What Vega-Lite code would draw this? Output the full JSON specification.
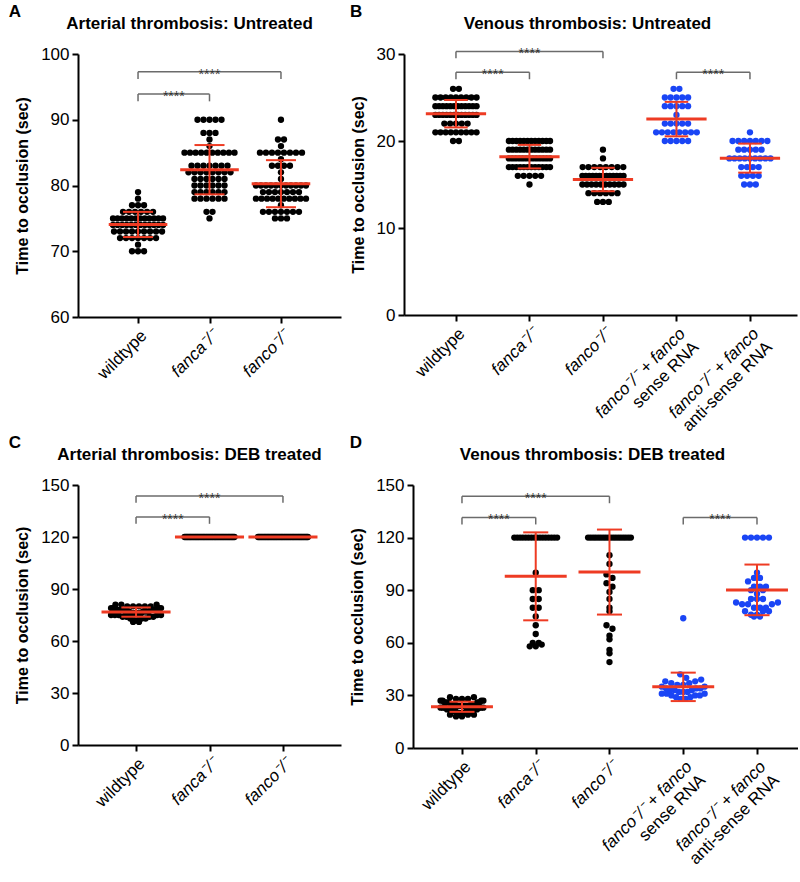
{
"$schema": "https://vega.github.io/schema/vega-lite/v6.json",
"background": "white",
"padding": {"left": 8, "top": 3, "right": 0, "bottom": 0},
"config": {
 "view": {"stroke": null},
 "font": "Liberation Sans",
 "axis": {"domainColor": "black", "domainWidth": 2, "tickColor": "black", "tickWidth": 2, "tickSize": 6, "labelColor": "black", "labelFontSize": 17, "labelFont": "Liberation Sans", "titleFont": "Liberation Sans", "titleFontSize": 16, "titleFontWeight": "bold", "titleColor": "black", "grid": false, "labelLineHeight": 19},
 "title": {"font": "Liberation Sans", "fontWeight": "bold", "color": "black"}
},
"datasets": {
"A": [
{"g":1,"v":79},{"g":1,"v":78},{"g":1,"v":77},{"g":1,"v":77},{"g":1,"v":77},
{"g":1,"v":76},{"g":1,"v":76},{"g":1,"v":76},{"g":1,"v":76},{"g":1,"v":76},{"g":1,"v":76},
{"g":1,"v":75},{"g":1,"v":75},{"g":1,"v":75},{"g":1,"v":75},{"g":1,"v":75},{"g":1,"v":75},{"g":1,"v":75},{"g":1,"v":75},{"g":1,"v":75},{"g":1,"v":75},{"g":1,"v":75},{"g":1,"v":75},
{"g":1,"v":74},{"g":1,"v":74},{"g":1,"v":74},{"g":1,"v":74},{"g":1,"v":74},{"g":1,"v":74},{"g":1,"v":74},{"g":1,"v":74},{"g":1,"v":74},{"g":1,"v":74},{"g":1,"v":74},{"g":1,"v":74},
{"g":1,"v":73},{"g":1,"v":73},{"g":1,"v":73},{"g":1,"v":73},{"g":1,"v":73},{"g":1,"v":73},{"g":1,"v":73},{"g":1,"v":73},{"g":1,"v":73},
{"g":1,"v":72},{"g":1,"v":72},{"g":1,"v":72},{"g":1,"v":72},{"g":1,"v":72},{"g":1,"v":72},{"g":1,"v":72},
{"g":1,"v":71},{"g":1,"v":70},{"g":1,"v":70},{"g":1,"v":70},
{"g":2,"v":90},{"g":2,"v":90},{"g":2,"v":90},{"g":2,"v":90},{"g":2,"v":90},
{"g":2,"v":88},{"g":2,"v":88},{"g":2,"v":88},{"g":2,"v":87},{"g":2,"v":86},
{"g":2,"v":85},{"g":2,"v":85},{"g":2,"v":85},{"g":2,"v":85},{"g":2,"v":85},{"g":2,"v":85},{"g":2,"v":85},{"g":2,"v":85},{"g":2,"v":85},{"g":2,"v":85},
{"g":2,"v":83},{"g":2,"v":83},{"g":2,"v":83},{"g":2,"v":83},{"g":2,"v":83},{"g":2,"v":83},{"g":2,"v":83},
{"g":2,"v":82},{"g":2,"v":82},{"g":2,"v":82},{"g":2,"v":82},{"g":2,"v":82},{"g":2,"v":82},{"g":2,"v":82},{"g":2,"v":82},
{"g":2,"v":81},{"g":2,"v":81},{"g":2,"v":81},{"g":2,"v":81},{"g":2,"v":81},{"g":2,"v":81},
{"g":2,"v":80},{"g":2,"v":80},{"g":2,"v":80},{"g":2,"v":80},{"g":2,"v":80},{"g":2,"v":80},
{"g":2,"v":79},{"g":2,"v":79},{"g":2,"v":79},{"g":2,"v":79},{"g":2,"v":79},{"g":2,"v":79},
{"g":2,"v":78},{"g":2,"v":78},{"g":2,"v":78},{"g":2,"v":78},{"g":2,"v":78},{"g":2,"v":78},
{"g":2,"v":76},{"g":2,"v":76},{"g":2,"v":75},
{"g":3,"v":90},{"g":3,"v":87},{"g":3,"v":87},{"g":3,"v":86},
{"g":3,"v":85},{"g":3,"v":85},{"g":3,"v":85},{"g":3,"v":85},{"g":3,"v":85},{"g":3,"v":85},{"g":3,"v":85},{"g":3,"v":85},
{"g":3,"v":84},{"g":3,"v":83},{"g":3,"v":83},{"g":3,"v":83},{"g":3,"v":83},{"g":3,"v":82},{"g":3,"v":81},
{"g":3,"v":80},{"g":3,"v":80},{"g":3,"v":80},{"g":3,"v":80},{"g":3,"v":80},{"g":3,"v":80},{"g":3,"v":80},{"g":3,"v":80},{"g":3,"v":80},{"g":3,"v":80},{"g":3,"v":80},
{"g":3,"v":79},{"g":3,"v":79},{"g":3,"v":79},{"g":3,"v":79},{"g":3,"v":79},{"g":3,"v":79},{"g":3,"v":79},
{"g":3,"v":78},{"g":3,"v":78},{"g":3,"v":78},{"g":3,"v":78},{"g":3,"v":78},{"g":3,"v":78},{"g":3,"v":78},{"g":3,"v":78},{"g":3,"v":78},{"g":3,"v":78},
{"g":3,"v":77},
{"g":3,"v":76},{"g":3,"v":76},{"g":3,"v":76},{"g":3,"v":76},{"g":3,"v":76},{"g":3,"v":76},{"g":3,"v":76},
{"g":3,"v":75},{"g":3,"v":75},{"g":3,"v":75}
],
"B": [
{"g":1,"v":26},{"g":1,"v":26},
{"g":1,"v":25},{"g":1,"v":25},{"g":1,"v":25},{"g":1,"v":25},{"g":1,"v":25},{"g":1,"v":25},{"g":1,"v":25},{"g":1,"v":25},{"g":1,"v":25},
{"g":1,"v":24},{"g":1,"v":24},{"g":1,"v":24},{"g":1,"v":24},{"g":1,"v":24},{"g":1,"v":24},{"g":1,"v":24},{"g":1,"v":24},{"g":1,"v":24},{"g":1,"v":24},{"g":1,"v":24},{"g":1,"v":24},
{"g":1,"v":23},{"g":1,"v":23},{"g":1,"v":23},{"g":1,"v":23},{"g":1,"v":23},{"g":1,"v":23},{"g":1,"v":23},{"g":1,"v":23},{"g":1,"v":23},{"g":1,"v":23},{"g":1,"v":23},{"g":1,"v":23},
{"g":1,"v":22},{"g":1,"v":22},{"g":1,"v":22},{"g":1,"v":22},{"g":1,"v":22},
{"g":1,"v":21},{"g":1,"v":21},{"g":1,"v":21},{"g":1,"v":21},{"g":1,"v":21},{"g":1,"v":21},{"g":1,"v":21},{"g":1,"v":21},{"g":1,"v":21},
{"g":1,"v":20},{"g":1,"v":20},
{"g":2,"v":20},{"g":2,"v":20},{"g":2,"v":20},{"g":2,"v":20},{"g":2,"v":20},{"g":2,"v":20},{"g":2,"v":20},{"g":2,"v":20},{"g":2,"v":20},{"g":2,"v":20},{"g":2,"v":20},{"g":2,"v":20},
{"g":2,"v":19},{"g":2,"v":19},{"g":2,"v":19},{"g":2,"v":19},{"g":2,"v":19},{"g":2,"v":19},{"g":2,"v":19},{"g":2,"v":19},{"g":2,"v":19},{"g":2,"v":19},{"g":2,"v":19},{"g":2,"v":19},
{"g":2,"v":18},{"g":2,"v":18},{"g":2,"v":18},{"g":2,"v":18},{"g":2,"v":18},{"g":2,"v":18},{"g":2,"v":18},{"g":2,"v":18},{"g":2,"v":18},{"g":2,"v":18},{"g":2,"v":18},{"g":2,"v":18},{"g":2,"v":18},
{"g":2,"v":17},{"g":2,"v":17},{"g":2,"v":17},{"g":2,"v":17},{"g":2,"v":17},{"g":2,"v":17},{"g":2,"v":17},{"g":2,"v":17},{"g":2,"v":17},{"g":2,"v":17},{"g":2,"v":17},{"g":2,"v":17},
{"g":2,"v":16},{"g":2,"v":16},{"g":2,"v":16},{"g":2,"v":16},{"g":2,"v":16},
{"g":2,"v":15},
{"g":3,"v":19},{"g":3,"v":18},
{"g":3,"v":17},{"g":3,"v":17},{"g":3,"v":17},{"g":3,"v":17},{"g":3,"v":17},{"g":3,"v":17},{"g":3,"v":17},{"g":3,"v":17},
{"g":3,"v":16},{"g":3,"v":16},{"g":3,"v":16},{"g":3,"v":16},{"g":3,"v":16},{"g":3,"v":16},{"g":3,"v":16},{"g":3,"v":16},{"g":3,"v":16},{"g":3,"v":16},{"g":3,"v":16},{"g":3,"v":16},{"g":3,"v":16},
{"g":3,"v":15},{"g":3,"v":15},{"g":3,"v":15},{"g":3,"v":15},{"g":3,"v":15},{"g":3,"v":15},{"g":3,"v":15},{"g":3,"v":15},{"g":3,"v":15},{"g":3,"v":15},
{"g":3,"v":14},{"g":3,"v":14},{"g":3,"v":14},{"g":3,"v":14},{"g":3,"v":14},{"g":3,"v":14},
{"g":3,"v":13},{"g":3,"v":13},{"g":3,"v":13},
{"g":4,"v":26},{"g":4,"v":26},
{"g":4,"v":25},{"g":4,"v":25},{"g":4,"v":25},{"g":4,"v":25},{"g":4,"v":25},
{"g":4,"v":24},{"g":4,"v":24},{"g":4,"v":24},{"g":4,"v":24},{"g":4,"v":24},
{"g":4,"v":23},
{"g":4,"v":22},{"g":4,"v":22},{"g":4,"v":22},{"g":4,"v":22},{"g":4,"v":22},
{"g":4,"v":21},{"g":4,"v":21},{"g":4,"v":21},{"g":4,"v":21},{"g":4,"v":21},{"g":4,"v":21},{"g":4,"v":21},{"g":4,"v":21},
{"g":4,"v":20},{"g":4,"v":20},{"g":4,"v":20},{"g":4,"v":20},{"g":4,"v":20},
{"g":5,"v":21},
{"g":5,"v":20},{"g":5,"v":20},{"g":5,"v":20},{"g":5,"v":20},{"g":5,"v":20},{"g":5,"v":20},{"g":5,"v":20},
{"g":5,"v":19},{"g":5,"v":19},{"g":5,"v":19},{"g":5,"v":19},{"g":5,"v":19},
{"g":5,"v":18},{"g":5,"v":18},{"g":5,"v":18},{"g":5,"v":18},{"g":5,"v":18},{"g":5,"v":18},{"g":5,"v":18},{"g":5,"v":18},{"g":5,"v":18},
{"g":5,"v":17},{"g":5,"v":17},{"g":5,"v":17},{"g":5,"v":17},
{"g":5,"v":16},{"g":5,"v":16},{"g":5,"v":16},{"g":5,"v":16},
{"g":5,"v":15},{"g":5,"v":15},{"g":5,"v":15}
],
"C": [
{"g":1,"v":71},{"g":1,"v":71},{"g":1,"v":72},{"g":1,"v":72},
{"g":1,"v":73},{"g":1,"v":73},{"g":1,"v":73},
{"g":1,"v":74},{"g":1,"v":74},{"g":1,"v":74},{"g":1,"v":74},
{"g":1,"v":75},{"g":1,"v":75},{"g":1,"v":75},{"g":1,"v":75},{"g":1,"v":75},
{"g":1,"v":76},{"g":1,"v":76},{"g":1,"v":76},{"g":1,"v":76},{"g":1,"v":76},{"g":1,"v":76},
{"g":1,"v":77},{"g":1,"v":77},{"g":1,"v":77},{"g":1,"v":77},{"g":1,"v":77},{"g":1,"v":77},{"g":1,"v":77},
{"g":1,"v":78},{"g":1,"v":78},{"g":1,"v":78},{"g":1,"v":78},{"g":1,"v":78},{"g":1,"v":78},{"g":1,"v":78},
{"g":1,"v":79},{"g":1,"v":79},{"g":1,"v":79},{"g":1,"v":79},{"g":1,"v":79},{"g":1,"v":79},
{"g":1,"v":80},{"g":1,"v":80},{"g":1,"v":80},{"g":1,"v":80},{"g":1,"v":80},
{"g":1,"v":81},{"g":1,"v":81},{"g":1,"v":81},
{"g":2,"v":120},{"g":2,"v":120},{"g":2,"v":120},{"g":2,"v":120},{"g":2,"v":120},{"g":2,"v":120},{"g":2,"v":120},{"g":2,"v":120},{"g":2,"v":120},{"g":2,"v":120},
{"g":2,"v":120},{"g":2,"v":120},{"g":2,"v":120},{"g":2,"v":120},{"g":2,"v":120},{"g":2,"v":120},{"g":2,"v":120},{"g":2,"v":120},{"g":2,"v":120},{"g":2,"v":120},
{"g":2,"v":120},{"g":2,"v":120},{"g":2,"v":120},{"g":2,"v":120},{"g":2,"v":120},{"g":2,"v":120},{"g":2,"v":120},{"g":2,"v":120},{"g":2,"v":120},{"g":2,"v":120},
{"g":2,"v":120},{"g":2,"v":120},{"g":2,"v":120},{"g":2,"v":120},{"g":2,"v":120},{"g":2,"v":120},{"g":2,"v":120},{"g":2,"v":120},{"g":2,"v":120},{"g":2,"v":120},
{"g":2,"v":120},{"g":2,"v":120},{"g":2,"v":120},{"g":2,"v":120},{"g":2,"v":120},
{"g":3,"v":120},{"g":3,"v":120},{"g":3,"v":120},{"g":3,"v":120},{"g":3,"v":120},{"g":3,"v":120},{"g":3,"v":120},{"g":3,"v":120},{"g":3,"v":120},{"g":3,"v":120},
{"g":3,"v":120},{"g":3,"v":120},{"g":3,"v":120},{"g":3,"v":120},{"g":3,"v":120},{"g":3,"v":120},{"g":3,"v":120},{"g":3,"v":120},{"g":3,"v":120},{"g":3,"v":120},
{"g":3,"v":120},{"g":3,"v":120},{"g":3,"v":120},{"g":3,"v":120},{"g":3,"v":120},{"g":3,"v":120},{"g":3,"v":120},{"g":3,"v":120},{"g":3,"v":120},{"g":3,"v":120},
{"g":3,"v":120},{"g":3,"v":120},{"g":3,"v":120},{"g":3,"v":120},{"g":3,"v":120},{"g":3,"v":120},{"g":3,"v":120},{"g":3,"v":120},{"g":3,"v":120},{"g":3,"v":120},
{"g":3,"v":120},{"g":3,"v":120},{"g":3,"v":120},{"g":3,"v":120},{"g":3,"v":120}
],
"D": [
{"g":1,"v":18},{"g":1,"v":18},{"g":1,"v":19},{"g":1,"v":19},{"g":1,"v":19},
{"g":1,"v":20},{"g":1,"v":20},{"g":1,"v":20},{"g":1,"v":20},
{"g":1,"v":21},{"g":1,"v":21},{"g":1,"v":21},{"g":1,"v":21},{"g":1,"v":21},
{"g":1,"v":22},{"g":1,"v":22},{"g":1,"v":22},{"g":1,"v":22},{"g":1,"v":22},{"g":1,"v":22},
{"g":1,"v":23},{"g":1,"v":23},{"g":1,"v":23},{"g":1,"v":23},{"g":1,"v":23},{"g":1,"v":23},
{"g":1,"v":24},{"g":1,"v":24},{"g":1,"v":24},{"g":1,"v":24},{"g":1,"v":24},{"g":1,"v":24},{"g":1,"v":24},
{"g":1,"v":25},{"g":1,"v":25},{"g":1,"v":25},{"g":1,"v":25},{"g":1,"v":25},{"g":1,"v":25},
{"g":1,"v":26},{"g":1,"v":26},{"g":1,"v":26},{"g":1,"v":26},{"g":1,"v":26},
{"g":1,"v":27},{"g":1,"v":27},{"g":1,"v":27},{"g":1,"v":27},
{"g":1,"v":28},{"g":1,"v":28},{"g":1,"v":28},{"g":1,"v":29},{"g":1,"v":29},
{"g":2,"v":120},{"g":2,"v":120},{"g":2,"v":120},{"g":2,"v":120},{"g":2,"v":120},{"g":2,"v":120},{"g":2,"v":120},{"g":2,"v":120},
{"g":2,"v":120},{"g":2,"v":120},{"g":2,"v":120},{"g":2,"v":120},{"g":2,"v":120},{"g":2,"v":120},{"g":2,"v":120},{"g":2,"v":120},
{"g":2,"v":100},{"g":2,"v":90},{"g":2,"v":90},{"g":2,"v":85},{"g":2,"v":85},{"g":2,"v":80},{"g":2,"v":80},
{"g":2,"v":75},{"g":2,"v":70},{"g":2,"v":65},{"g":2,"v":60},{"g":2,"v":60},{"g":2,"v":59},{"g":2,"v":58},{"g":2,"v":58},
{"g":3,"v":120},{"g":3,"v":120},{"g":3,"v":120},{"g":3,"v":120},{"g":3,"v":120},{"g":3,"v":120},{"g":3,"v":120},{"g":3,"v":120},{"g":3,"v":120},
{"g":3,"v":120},{"g":3,"v":120},{"g":3,"v":120},{"g":3,"v":120},{"g":3,"v":120},{"g":3,"v":120},{"g":3,"v":120},{"g":3,"v":120},{"g":3,"v":120},
{"g":3,"v":110},{"g":3,"v":105},{"g":3,"v":99},{"g":3,"v":97},{"g":3,"v":94},{"g":3,"v":92},{"g":3,"v":89},{"g":3,"v":85},{"g":3,"v":80},
{"g":3,"v":78},{"g":3,"v":70},{"g":3,"v":68},{"g":3,"v":64},{"g":3,"v":62},{"g":3,"v":56},{"g":3,"v":54},{"g":3,"v":49},
{"g":4,"v":74},{"g":4,"v":28},{"g":4,"v":28},{"g":4,"v":29},{"g":4,"v":29},
{"g":4,"v":30},{"g":4,"v":30},{"g":4,"v":30},{"g":4,"v":31},{"g":4,"v":31},{"g":4,"v":31},
{"g":4,"v":32},{"g":4,"v":32},{"g":4,"v":32},{"g":4,"v":33},{"g":4,"v":33},{"g":4,"v":33},
{"g":4,"v":34},{"g":4,"v":34},{"g":4,"v":34},{"g":4,"v":35},{"g":4,"v":35},{"g":4,"v":36},{"g":4,"v":36},
{"g":4,"v":37},{"g":4,"v":37},{"g":4,"v":38},{"g":4,"v":38},{"g":4,"v":39},{"g":4,"v":40},{"g":4,"v":42},
{"g":5,"v":120},{"g":5,"v":120},{"g":5,"v":120},{"g":5,"v":120},{"g":5,"v":120},
{"g":5,"v":100},{"g":5,"v":97},{"g":5,"v":97},{"g":5,"v":95},{"g":5,"v":92},{"g":5,"v":92},{"g":5,"v":92},
{"g":5,"v":90},{"g":5,"v":90},{"g":5,"v":88},{"g":5,"v":85},{"g":5,"v":85},{"g":5,"v":85},
{"g":5,"v":83},{"g":5,"v":83},{"g":5,"v":82},{"g":5,"v":82},{"g":5,"v":82},
{"g":5,"v":80},{"g":5,"v":80},{"g":5,"v":80},{"g":5,"v":78},{"g":5,"v":78},{"g":5,"v":78},
{"g":5,"v":76},{"g":5,"v":76},{"g":5,"v":75},{"g":5,"v":75}
]
},
"spacing": 0,
"vconcat": [
{"spacing": 9, "hconcat": [
{
 "title": {"text": "A", "anchor": "start", "frame": "bounds", "fontSize": 17, "offset": -6, "dx": -6},
 "vconcat": [{
  "width": 263, "height": 263,
  "title": {"text": "Arterial thrombosis: Untreated", "fontSize": 17, "offset": 12, "dx": -20},
  "data": {"name": "A"},
  "layer": [
   {
    "transform": [
     {"calculate": "floor(datum.v / 1)", "as": "bin"},
     {"window": [{"op": "row_number", "as": "r"}], "groupby": ["g", "bin"], "sort": [{"field": "v"}]},
     {"joinaggregate": [{"op": "count", "as": "n"}], "groupby": ["g", "bin"]},
     {"calculate": "min(0.084, 0.70 / max(1, datum.n - 1))", "as": "sp"},
     {"calculate": "(datum.r - 1) % 2 == 0 ? (datum.r - 1) / 2 : -datum.r / 2", "as": "k"},
     {"calculate": "datum.g + (datum.k + (datum.n % 2 == 0 ? 0.5 : 0)) * datum.sp", "as": "xp"}
    ],
    "mark": {"type": "circle", "size": 40, "opacity": 1},
    "encoding": {
     "x": {"field": "xp", "type": "quantitative", "title": null, "scale": {"domain": [0.16, 3.84], "nice": false, "zero": false},
       "axis": {"values": [1, 2, 3], "labelExpr": "datum.value == 1 ? 'wildtype' : datum.value == 2 ? 'fanca⁻/⁻' : 'fanco⁻/⁻'", "labelAngle": -45, "labelAlign": "right", "labelBaseline": "top", "labelFontStyle": {"condition": {"test": "datum.value == 1", "value": "normal"}, "value": "italic"}, "labelPadding": 4, "labelBound": false, "labelFlush": false, "labelOverlap": false}},
     "y": {"field": "v", "type": "quantitative", "title": "Time to occlusion (sec)", "scale": {"domain": [60, 100], "nice": false, "zero": false},
       "axis": {"values": [60, 70, 80, 90, 100], "titlePadding": 10, "labelPadding": 3}},
     "color": {"condition": {"test": "datum.g >= 4", "value": "#1a45f5"}, "value": "black"}
    }
   },
   {
    "transform": [
     {"aggregate": [{"op": "mean", "field": "v", "as": "m"}, {"op": "stdev", "field": "v", "as": "sd"}], "groupby": ["g"]},
     {"calculate": "datum.m - datum.sd", "as": "lo"},
     {"calculate": "datum.m + datum.sd", "as": "hi"},
     {"calculate": "datum.g - 0.41", "as": "ml"},
     {"calculate": "datum.g + 0.41", "as": "mr"},
     {"calculate": "datum.g - 0.21", "as": "cl"},
     {"calculate": "datum.g + 0.21", "as": "cr"}
    ],
    "layer": [
     {"mark": {"type": "rule", "color": "#ee3b23", "strokeWidth": 2}, "encoding": {"x": {"field": "g", "type": "quantitative", "title": null, "scale": {"domain": [0.16, 3.84], "nice": false, "zero": false}}, "y": {"field": "lo", "type": "quantitative", "title": "Time to occlusion (sec)", "scale": {"domain": [60, 100], "nice": false, "zero": false}}, "y2": {"field": "hi"}}},
     {"mark": {"type": "rule", "color": "#ee3b23", "strokeWidth": 3}, "encoding": {"x": {"field": "ml", "type": "quantitative", "title": null, "scale": {"domain": [0.16, 3.84], "nice": false, "zero": false}}, "x2": {"field": "mr"}, "y": {"field": "m", "type": "quantitative", "title": "Time to occlusion (sec)", "scale": {"domain": [60, 100], "nice": false, "zero": false}}}},
     {"mark": {"type": "rule", "color": "#ee3b23", "strokeWidth": 2}, "encoding": {"x": {"field": "cl", "type": "quantitative", "title": null, "scale": {"domain": [0.16, 3.84], "nice": false, "zero": false}}, "x2": {"field": "cr"}, "y": {"field": "hi", "type": "quantitative", "title": "Time to occlusion (sec)", "scale": {"domain": [60, 100], "nice": false, "zero": false}}}},
     {"mark": {"type": "rule", "color": "#ee3b23", "strokeWidth": 2}, "encoding": {"x": {"field": "cl", "type": "quantitative", "title": null, "scale": {"domain": [0.16, 3.84], "nice": false, "zero": false}}, "x2": {"field": "cr"}, "y": {"field": "lo", "type": "quantitative", "title": "Time to occlusion (sec)", "scale": {"domain": [60, 100], "nice": false, "zero": false}}}}
    ]
   },
   {
    "data": {"values": [{"a": 1, "b": 2, "y": 93.9}, {"a": 1, "b": 3, "y": 97.3}]},
    "transform": [{"calculate": "(datum.a + datum.b) / 2", "as": "mid"}, {"calculate": "datum.y - 1.1", "as": "yl"}],
    "layer": [
     {"mark": {"type": "rule", "color": "#6b6b6b", "strokeWidth": 1.5}, "encoding": {"x": {"field": "a", "type": "quantitative", "title": null, "scale": {"domain": [0.16, 3.84], "nice": false, "zero": false}}, "x2": {"field": "b"}, "y": {"field": "y", "type": "quantitative", "title": "Time to occlusion (sec)", "scale": {"domain": [60, 100], "nice": false, "zero": false}}}},
     {"transform": [{"fold": ["a", "b"], "as": ["k", "xv"]}], "mark": {"type": "rule", "color": "#6b6b6b", "strokeWidth": 1.5}, "encoding": {"x": {"field": "xv", "type": "quantitative", "title": null, "scale": {"domain": [0.16, 3.84], "nice": false, "zero": false}}, "y": {"field": "y", "type": "quantitative", "title": "Time to occlusion (sec)", "scale": {"domain": [60, 100], "nice": false, "zero": false}}, "y2": {"field": "yl"}}},
     {"mark": {"type": "text", "text": "****", "fontSize": 14, "color": "#333333", "dy": 3}, "encoding": {"x": {"field": "mid", "type": "quantitative", "title": null, "scale": {"domain": [0.16, 3.84], "nice": false, "zero": false}}, "y": {"field": "y", "type": "quantitative", "title": "Time to occlusion (sec)", "scale": {"domain": [60, 100], "nice": false, "zero": false}}}}
    ]
   }
  ]
 }]
},
{
 "title": {"text": "B", "anchor": "start", "frame": "bounds", "fontSize": 17, "offset": -6, "dx": 0},
 "vconcat": [{
  "width": 393, "height": 261,
  "title": {"text": "Venous thrombosis: Untreated", "fontSize": 17, "offset": 12, "dx": -13},
  "data": {"name": "B"},
  "resolve": {"axis": {"x": "independent"}},
  "layer": [
   {
    "transform": [
     {"calculate": "floor(datum.v / 1)", "as": "bin"},
     {"window": [{"op": "row_number", "as": "r"}], "groupby": ["g", "bin"], "sort": [{"field": "v"}]},
     {"joinaggregate": [{"op": "count", "as": "n"}], "groupby": ["g", "bin"]},
     {"calculate": "min(0.079, 0.56 / max(1, datum.n - 1))", "as": "sp"},
     {"calculate": "(datum.r - 1) % 2 == 0 ? (datum.r - 1) / 2 : -datum.r / 2", "as": "k"},
     {"calculate": "datum.g + (datum.k + (datum.n % 2 == 0 ? 0.5 : 0)) * datum.sp", "as": "xp"}
    ],
    "mark": {"type": "circle", "size": 40, "opacity": 1},
    "encoding": {
     "x": {"field": "xp", "type": "quantitative", "title": null, "scale": {"domain": [0.293, 5.64], "nice": false, "zero": false},
       "axis": {"orient": "bottom", "values": [1, 2, 3, 4, 5], "labelExpr": "datum.value == 1 ? 'wildtype' : datum.value == 2 ? 'fanca⁻/⁻' : datum.value == 3 ? 'fanco⁻/⁻' : 'fanco⁻/⁻ + fanco'", "labelAngle": -45, "labelAlign": "right", "labelBaseline": "top", "labelFontStyle": {"condition": {"test": "datum.value == 1", "value": "normal"}, "value": "italic"}, "labelPadding": 4, "labelBound": false, "labelFlush": false, "labelOverlap": false}},
     "y": {"field": "v", "type": "quantitative", "title": "Time to occlusion (sec)", "scale": {"domain": [0, 30], "nice": false, "zero": false},
       "axis": {"values": [0, 10, 20, 30], "titlePadding": 10, "labelPadding": 3}},
     "color": {"condition": {"test": "datum.g >= 4", "value": "#1a45f5"}, "value": "black"}
    }
   },
   {
    "transform": [
     {"aggregate": [{"op": "mean", "field": "v", "as": "m"}, {"op": "stdev", "field": "v", "as": "sd"}], "groupby": ["g"]},
     {"calculate": "datum.m - datum.sd", "as": "lo"},
     {"calculate": "datum.m + datum.sd", "as": "hi"},
     {"calculate": "datum.g - 0.41", "as": "ml"},
     {"calculate": "datum.g + 0.41", "as": "mr"},
     {"calculate": "datum.g - 0.16", "as": "cl"},
     {"calculate": "datum.g + 0.16", "as": "cr"}
    ],
    "layer": [
     {"mark": {"type": "rule", "color": "#ee3b23", "strokeWidth": 2}, "encoding": {"x": {"field": "g", "type": "quantitative", "title": null, "scale": {"domain": [0.293, 5.64], "nice": false, "zero": false},
        "axis": {"orient": "bottom", "values": [4, 5], "labelExpr": "datum.value == 4 ? ['', 'sense RNA'] : ['', 'anti-sense RNA']", "domain": false, "tickOpacity": 0, "labelAngle": -45, "labelAlign": "right", "labelBaseline": "top", "labelFontStyle": "normal", "labelPadding": 4, "labelBound": false, "labelFlush": false, "labelOverlap": false}},
       "y": {"field": "lo", "type": "quantitative", "title": "Time to occlusion (sec)", "scale": {"domain": [0, 30], "nice": false, "zero": false}}, "y2": {"field": "hi"}}},
     {"mark": {"type": "rule", "color": "#ee3b23", "strokeWidth": 3}, "encoding": {"x": {"field": "ml", "type": "quantitative", "title": null, "scale": {"domain": [0.293, 5.64], "nice": false, "zero": false}}, "x2": {"field": "mr"}, "y": {"field": "m", "type": "quantitative", "title": "Time to occlusion (sec)", "scale": {"domain": [0, 30], "nice": false, "zero": false}}}},
     {"mark": {"type": "rule", "color": "#ee3b23", "strokeWidth": 2}, "encoding": {"x": {"field": "cl", "type": "quantitative", "title": null, "scale": {"domain": [0.293, 5.64], "nice": false, "zero": false}}, "x2": {"field": "cr"}, "y": {"field": "hi", "type": "quantitative", "title": "Time to occlusion (sec)", "scale": {"domain": [0, 30], "nice": false, "zero": false}}}},
     {"mark": {"type": "rule", "color": "#ee3b23", "strokeWidth": 2}, "encoding": {"x": {"field": "cl", "type": "quantitative", "title": null, "scale": {"domain": [0.293, 5.64], "nice": false, "zero": false}}, "x2": {"field": "cr"}, "y": {"field": "lo", "type": "quantitative", "title": "Time to occlusion (sec)", "scale": {"domain": [0, 30], "nice": false, "zero": false}}}}
    ]
   },
   {
    "data": {"values": [{"a": 1, "b": 2, "y": 27.9}, {"a": 1, "b": 3, "y": 30.3}, {"a": 4, "b": 5, "y": 27.9}]},
    "transform": [{"calculate": "(datum.a + datum.b) / 2", "as": "mid"}, {"calculate": "datum.y - 0.8", "as": "yl"}],
    "layer": [
     {"mark": {"type": "rule", "color": "#6b6b6b", "strokeWidth": 1.5}, "encoding": {"x": {"field": "a", "type": "quantitative", "title": null, "axis": null, "scale": {"domain": [0.293, 5.64], "nice": false, "zero": false}}, "x2": {"field": "b"}, "y": {"field": "y", "type": "quantitative", "title": "Time to occlusion (sec)", "scale": {"domain": [0, 30], "nice": false, "zero": false}}}},
     {"transform": [{"fold": ["a", "b"], "as": ["k", "xv"]}], "mark": {"type": "rule", "color": "#6b6b6b", "strokeWidth": 1.5}, "encoding": {"x": {"field": "xv", "type": "quantitative", "title": null, "axis": null, "scale": {"domain": [0.293, 5.64], "nice": false, "zero": false}}, "y": {"field": "y", "type": "quantitative", "title": "Time to occlusion (sec)", "scale": {"domain": [0, 30], "nice": false, "zero": false}}, "y2": {"field": "yl"}}},
     {"mark": {"type": "text", "text": "****", "fontSize": 14, "color": "#333333", "dy": 3}, "encoding": {"x": {"field": "mid", "type": "quantitative", "title": null, "axis": null, "scale": {"domain": [0.293, 5.64], "nice": false, "zero": false}}, "y": {"field": "y", "type": "quantitative", "title": "Time to occlusion (sec)", "scale": {"domain": [0, 30], "nice": false, "zero": false}}}}
    ]
   }
  ]
 }]
}
]},
{"spacing": 8, "hconcat": [
{
 "title": {"text": "C", "anchor": "start", "frame": "bounds", "fontSize": 17, "offset": -6, "dx": -6},
 "vconcat": [{
  "width": 263, "height": 260,
  "title": {"text": "Arterial thrombosis: DEB treated", "fontSize": 17, "offset": 12, "dx": -20},
  "data": {"name": "C"},
  "layer": [
   {
    "transform": [
     {"calculate": "floor(datum.v / 4)", "as": "bin"},
     {"window": [{"op": "row_number", "as": "r"}], "groupby": ["g", "bin"], "sort": [{"field": "v"}]},
     {"joinaggregate": [{"op": "count", "as": "n"}], "groupby": ["g", "bin"]},
     {"calculate": "min(0.08, 0.68 / max(1, datum.n - 1))", "as": "sp"},
     {"calculate": "(datum.r - 1) % 2 == 0 ? (datum.r - 1) / 2 : -datum.r / 2", "as": "k"},
     {"calculate": "datum.g + (datum.k + (datum.n % 2 == 0 ? 0.5 : 0)) * datum.sp", "as": "xp"}
    ],
    "mark": {"type": "circle", "size": 40, "opacity": 1},
    "encoding": {
     "x": {"field": "xp", "type": "quantitative", "title": null, "scale": {"domain": [0.21, 3.79], "nice": false, "zero": false},
       "axis": {"values": [1, 2, 3], "labelExpr": "datum.value == 1 ? 'wildtype' : datum.value == 2 ? 'fanca⁻/⁻' : 'fanco⁻/⁻'", "labelAngle": -45, "labelAlign": "right", "labelBaseline": "top", "labelFontStyle": {"condition": {"test": "datum.value == 1", "value": "normal"}, "value": "italic"}, "labelPadding": 4, "labelBound": false, "labelFlush": false, "labelOverlap": false}},
     "y": {"field": "v", "type": "quantitative", "title": "Time to occlusion (sec)", "scale": {"domain": [0, 150], "nice": false, "zero": false},
       "axis": {"values": [0, 30, 60, 90, 120, 150], "titlePadding": 10, "labelPadding": 3}},
     "color": {"condition": {"test": "datum.g >= 4", "value": "#1a45f5"}, "value": "black"}
    }
   },
   {
    "transform": [
     {"aggregate": [{"op": "mean", "field": "v", "as": "m"}, {"op": "stdev", "field": "v", "as": "sd"}], "groupby": ["g"]},
     {"calculate": "datum.m - datum.sd", "as": "lo"},
     {"calculate": "datum.m + datum.sd", "as": "hi"},
     {"calculate": "datum.g - 0.47", "as": "ml"},
     {"calculate": "datum.g + 0.47", "as": "mr"},
     {"calculate": "datum.g - 0.2", "as": "cl"},
     {"calculate": "datum.g + 0.2", "as": "cr"}
    ],
    "layer": [
     {"mark": {"type": "rule", "color": "#ee3b23", "strokeWidth": 2}, "encoding": {"x": {"field": "g", "type": "quantitative", "title": null, "scale": {"domain": [0.21, 3.79], "nice": false, "zero": false}}, "y": {"field": "lo", "type": "quantitative", "title": "Time to occlusion (sec)", "scale": {"domain": [0, 150], "nice": false, "zero": false}}, "y2": {"field": "hi"}}},
     {"mark": {"type": "rule", "color": "#ee3b23", "strokeWidth": 3}, "encoding": {"x": {"field": "ml", "type": "quantitative", "title": null, "scale": {"domain": [0.21, 3.79], "nice": false, "zero": false}}, "x2": {"field": "mr"}, "y": {"field": "m", "type": "quantitative", "title": "Time to occlusion (sec)", "scale": {"domain": [0, 150], "nice": false, "zero": false}}}},
     {"mark": {"type": "rule", "color": "#ee3b23", "strokeWidth": 2}, "encoding": {"x": {"field": "cl", "type": "quantitative", "title": null, "scale": {"domain": [0.21, 3.79], "nice": false, "zero": false}}, "x2": {"field": "cr"}, "y": {"field": "hi", "type": "quantitative", "title": "Time to occlusion (sec)", "scale": {"domain": [0, 150], "nice": false, "zero": false}}}},
     {"mark": {"type": "rule", "color": "#ee3b23", "strokeWidth": 2}, "encoding": {"x": {"field": "cl", "type": "quantitative", "title": null, "scale": {"domain": [0.21, 3.79], "nice": false, "zero": false}}, "x2": {"field": "cr"}, "y": {"field": "lo", "type": "quantitative", "title": "Time to occlusion (sec)", "scale": {"domain": [0, 150], "nice": false, "zero": false}}}}
    ]
   },
   {
    "data": {"values": [{"a": 1, "b": 2, "y": 131.6}, {"a": 1, "b": 3, "y": 143.7}]},
    "transform": [{"calculate": "(datum.a + datum.b) / 2", "as": "mid"}, {"calculate": "datum.y - 4", "as": "yl"}],
    "layer": [
     {"mark": {"type": "rule", "color": "#6b6b6b", "strokeWidth": 1.5}, "encoding": {"x": {"field": "a", "type": "quantitative", "title": null, "scale": {"domain": [0.21, 3.79], "nice": false, "zero": false}}, "x2": {"field": "b"}, "y": {"field": "y", "type": "quantitative", "title": "Time to occlusion (sec)", "scale": {"domain": [0, 150], "nice": false, "zero": false}}}},
     {"transform": [{"fold": ["a", "b"], "as": ["k", "xv"]}], "mark": {"type": "rule", "color": "#6b6b6b", "strokeWidth": 1.5}, "encoding": {"x": {"field": "xv", "type": "quantitative", "title": null, "scale": {"domain": [0.21, 3.79], "nice": false, "zero": false}}, "y": {"field": "y", "type": "quantitative", "title": "Time to occlusion (sec)", "scale": {"domain": [0, 150], "nice": false, "zero": false}}, "y2": {"field": "yl"}}},
     {"mark": {"type": "text", "text": "****", "fontSize": 14, "color": "#333333", "dy": 3}, "encoding": {"x": {"field": "mid", "type": "quantitative", "title": null, "scale": {"domain": [0.21, 3.79], "nice": false, "zero": false}}, "y": {"field": "y", "type": "quantitative", "title": "Time to occlusion (sec)", "scale": {"domain": [0, 150], "nice": false, "zero": false}}}}
    ]
   }
  ]
 }]
},
{
 "title": {"text": "D", "anchor": "start", "frame": "bounds", "fontSize": 17, "offset": -6, "dx": 0},
 "vconcat": [{
  "width": 385, "height": 263,
  "title": {"text": "Venous thrombosis: DEB treated", "fontSize": 17, "offset": 12, "dx": -13},
  "data": {"name": "D"},
  "resolve": {"axis": {"x": "independent"}},
  "layer": [
   {
    "transform": [
     {"calculate": "floor(datum.v / 4)", "as": "bin"},
     {"window": [{"op": "row_number", "as": "r"}], "groupby": ["g", "bin"], "sort": [{"field": "v"}]},
     {"joinaggregate": [{"op": "count", "as": "n"}], "groupby": ["g", "bin"]},
     {"calculate": "min(0.081, 0.58 / max(1, datum.n - 1))", "as": "sp"},
     {"calculate": "(datum.r - 1) % 2 == 0 ? (datum.r - 1) / 2 : -datum.r / 2", "as": "k"},
     {"calculate": "datum.g + (datum.k + (datum.n % 2 == 0 ? 0.5 : 0)) * datum.sp", "as": "xp"}
    ],
    "mark": {"type": "circle", "size": 40, "opacity": 1},
    "encoding": {
     "x": {"field": "xp", "type": "quantitative", "title": null, "scale": {"domain": [0.336, 5.556], "nice": false, "zero": false},
       "axis": {"orient": "bottom", "values": [1, 2, 3, 4, 5], "labelExpr": "datum.value == 1 ? 'wildtype' : datum.value == 2 ? 'fanca⁻/⁻' : datum.value == 3 ? 'fanco⁻/⁻' : 'fanco⁻/⁻ + fanco'", "labelAngle": -45, "labelAlign": "right", "labelBaseline": "top", "labelFontStyle": {"condition": {"test": "datum.value == 1", "value": "normal"}, "value": "italic"}, "labelPadding": 4, "labelBound": false, "labelFlush": false, "labelOverlap": false}},
     "y": {"field": "v", "type": "quantitative", "title": "Time to occlusion (sec)", "scale": {"domain": [0, 150], "nice": false, "zero": false},
       "axis": {"values": [0, 30, 60, 90, 120, 150], "titlePadding": 10, "labelPadding": 3}},
     "color": {"condition": {"test": "datum.g >= 4", "value": "#1a45f5"}, "value": "black"}
    }
   },
   {
    "transform": [
     {"aggregate": [{"op": "mean", "field": "v", "as": "m"}, {"op": "stdev", "field": "v", "as": "sd"}], "groupby": ["g"]},
     {"calculate": "datum.m - datum.sd", "as": "lo"},
     {"calculate": "datum.m + datum.sd", "as": "hi"},
     {"calculate": "datum.g - 0.42", "as": "ml"},
     {"calculate": "datum.g + 0.42", "as": "mr"},
     {"calculate": "datum.g - 0.17", "as": "cl"},
     {"calculate": "datum.g + 0.17", "as": "cr"}
    ],
    "layer": [
     {"mark": {"type": "rule", "color": "#ee3b23", "strokeWidth": 2}, "encoding": {"x": {"field": "g", "type": "quantitative", "title": null, "scale": {"domain": [0.336, 5.556], "nice": false, "zero": false},
        "axis": {"orient": "bottom", "values": [4, 5], "labelExpr": "datum.value == 4 ? ['', 'sense RNA'] : ['', 'anti-sense RNA']", "domain": false, "tickOpacity": 0, "labelAngle": -45, "labelAlign": "right", "labelBaseline": "top", "labelFontStyle": "normal", "labelPadding": 4, "labelBound": false, "labelFlush": false, "labelOverlap": false}},
       "y": {"field": "lo", "type": "quantitative", "title": "Time to occlusion (sec)", "scale": {"domain": [0, 150], "nice": false, "zero": false}}, "y2": {"field": "hi"}}},
     {"mark": {"type": "rule", "color": "#ee3b23", "strokeWidth": 3}, "encoding": {"x": {"field": "ml", "type": "quantitative", "title": null, "scale": {"domain": [0.336, 5.556], "nice": false, "zero": false}}, "x2": {"field": "mr"}, "y": {"field": "m", "type": "quantitative", "title": "Time to occlusion (sec)", "scale": {"domain": [0, 150], "nice": false, "zero": false}}}},
     {"mark": {"type": "rule", "color": "#ee3b23", "strokeWidth": 2}, "encoding": {"x": {"field": "cl", "type": "quantitative", "title": null, "scale": {"domain": [0.336, 5.556], "nice": false, "zero": false}}, "x2": {"field": "cr"}, "y": {"field": "hi", "type": "quantitative", "title": "Time to occlusion (sec)", "scale": {"domain": [0, 150], "nice": false, "zero": false}}}},
     {"mark": {"type": "rule", "color": "#ee3b23", "strokeWidth": 2}, "encoding": {"x": {"field": "cl", "type": "quantitative", "title": null, "scale": {"domain": [0.336, 5.556], "nice": false, "zero": false}}, "x2": {"field": "cr"}, "y": {"field": "lo", "type": "quantitative", "title": "Time to occlusion (sec)", "scale": {"domain": [0, 150], "nice": false, "zero": false}}}}
    ]
   },
   {
    "data": {"values": [{"a": 1, "b": 2, "y": 131.5}, {"a": 1, "b": 3, "y": 143.6}, {"a": 4, "b": 5, "y": 131.5}]},
    "transform": [{"calculate": "(datum.a + datum.b) / 2", "as": "mid"}, {"calculate": "datum.y - 4", "as": "yl"}],
    "layer": [
     {"mark": {"type": "rule", "color": "#6b6b6b", "strokeWidth": 1.5}, "encoding": {"x": {"field": "a", "type": "quantitative", "title": null, "axis": null, "scale": {"domain": [0.336, 5.556], "nice": false, "zero": false}}, "x2": {"field": "b"}, "y": {"field": "y", "type": "quantitative", "title": "Time to occlusion (sec)", "scale": {"domain": [0, 150], "nice": false, "zero": false}}}},
     {"transform": [{"fold": ["a", "b"], "as": ["k", "xv"]}], "mark": {"type": "rule", "color": "#6b6b6b", "strokeWidth": 1.5}, "encoding": {"x": {"field": "xv", "type": "quantitative", "title": null, "axis": null, "scale": {"domain": [0.336, 5.556], "nice": false, "zero": false}}, "y": {"field": "y", "type": "quantitative", "title": "Time to occlusion (sec)", "scale": {"domain": [0, 150], "nice": false, "zero": false}}, "y2": {"field": "yl"}}},
     {"mark": {"type": "text", "text": "****", "fontSize": 14, "color": "#333333", "dy": 3}, "encoding": {"x": {"field": "mid", "type": "quantitative", "title": null, "axis": null, "scale": {"domain": [0.336, 5.556], "nice": false, "zero": false}}, "y": {"field": "y", "type": "quantitative", "title": "Time to occlusion (sec)", "scale": {"domain": [0, 150], "nice": false, "zero": false}}}}
    ]
   }
  ]
 }]
}
]}
]
}
